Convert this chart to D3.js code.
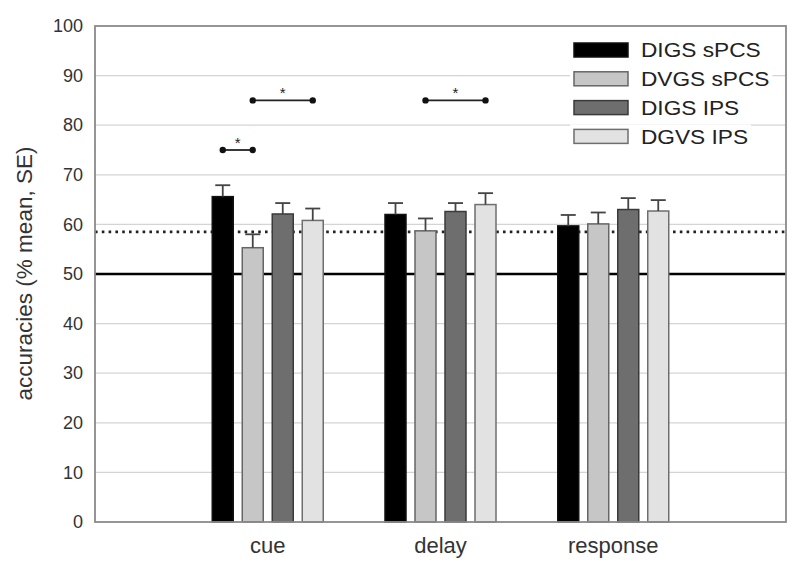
<!DOCTYPE html>
<html><head><meta charset="utf-8">
<script src="https://cdn.jsdelivr.net/npm/d3@7"></script>
<style>body{margin:0;background:#fff}svg{display:block;font-family:"Liberation Sans",Arial,sans-serif}</style>
</head><body>
<svg id="chart" width="800" height="575"></svg>
<script>
const categories = ["cue", "delay", "response"];
const seriesNames = ["DIGS sPCS", "DVGS sPCS", "DIGS IPS", "DGVS IPS"];
const meanDIGSsPCS = [65.6, 62.0, 59.7];
const meanDVGSsPCS = [55.3, 58.7, 60.1];
const meanDIGSIPS  = [62.1, 62.6, 63.0];
const meanDGVSIPS  = [60.8, 64.0, 62.7];
const seDIGSsPCS = [2.3, 2.3, 2.2];
const seDVGSsPCS = [2.7, 2.5, 2.3];
const seDIGSIPS  = [2.2, 1.7, 2.3];
const seDGVSIPS  = [2.4, 2.3, 2.2];
const yTicks = [0, 10, 20, 30, 40, 50, 60, 70, 80, 90, 100];
const chanceLevel = 50;
const permutationLevel = 58.5;
// significance brackets: category, from series, to series, level
const sigCategory = ["cue", "cue", "delay"];
const sigFrom = ["DIGS sPCS", "DVGS sPCS", "DVGS sPCS"];
const sigTo = ["DVGS sPCS", "DGVS IPS", "DGVS IPS"];
const sigLevel = [75, 85, 85];

const means = [meanDIGSsPCS, meanDVGSsPCS, meanDIGSIPS, meanDGVSIPS];
const ses = [seDIGSsPCS, seDVGSsPCS, seDIGSIPS, seDGVSIPS];
const fills = ["#000000", "#c6c6c6", "#6e6e6e", "#e2e2e2"];
const strokes = ["#111111", "#666666", "#3a3a3a", "#6e6e6e"];

const svg = d3.select("#chart");
const L = 95, R = 786, T = 26, B = 522;

const x = d3.scalePoint().domain(categories).range([L, R]).padding(1);
const xs = d3.scaleBand().domain(seriesNames).range([-60, 60]).paddingInner(0.3).paddingOuter(0.15);
const y = d3.scaleLinear().domain([0, 100]).range([B, T]);

// gridlines
svg.append("g").selectAll("line").data(yTicks.filter(d => d > 0 && d < 100)).join("line")
  .attr("x1", L).attr("x2", R).attr("y1", d => y(d)).attr("y2", d => y(d))
  .attr("stroke", "#d4d4d4").attr("stroke-width", 1.3);

// y axis tick labels
const yAxis = d3.axisLeft(y).tickValues(yTicks).tickSize(0).tickPadding(12);
const ga = svg.append("g").attr("transform", `translate(${L},0)`).call(yAxis);
ga.select(".domain").remove();
ga.selectAll("text").attr("font-size", 18).attr("fill", "#333").attr("font-family", '"Liberation Sans",Arial,sans-serif');

// reference lines
svg.append("line").attr("x1", L).attr("x2", R).attr("y1", y(permutationLevel)).attr("y2", y(permutationLevel))
  .attr("stroke", "#222").attr("stroke-width", 2.6).attr("stroke-dasharray", "2.6,4.2");
svg.append("line").attr("x1", L).attr("x2", R).attr("y1", y(chanceLevel)).attr("y2", y(chanceLevel))
  .attr("stroke", "#000").attr("stroke-width", 2.5);

// bars
const flat = [];
seriesNames.forEach((s, i) => categories.forEach((c, j) => flat.push({s, i, c, v: means[i][j], se: ses[i][j]})));
const gb = svg.append("g");
gb.selectAll("rect").data(flat).join("rect")
  .attr("x", d => x(d.c) + xs(d.s)).attr("width", xs.bandwidth())
  .attr("y", d => y(d.v)).attr("height", d => y(0) - y(d.v))
  .attr("fill", d => fills[d.i]).attr("stroke", d => strokes[d.i]).attr("stroke-width", 1.5);

// error bars (upper)
const ge = svg.append("g").attr("stroke", "#444").attr("stroke-width", 1.8);
flat.forEach(d => {
  const cx = x(d.c) + xs(d.s) + xs.bandwidth() / 2;
  ge.append("line").attr("x1", cx).attr("x2", cx).attr("y1", y(d.v)).attr("y2", y(d.v + d.se));
  ge.append("line").attr("x1", cx - 7.5).attr("x2", cx + 7.5).attr("y1", y(d.v + d.se)).attr("y2", y(d.v + d.se));
});

// plot border
svg.append("rect").attr("x", L).attr("y", T).attr("width", R - L).attr("height", B - T)
  .attr("fill", "none").attr("stroke", "#8a8a8a").attr("stroke-width", 1.8);

// significance brackets
const gs = svg.append("g");
sigCategory.forEach((c, k) => {
  const x1 = x(c) + xs(sigFrom[k]) + xs.bandwidth() / 2;
  const x2 = x(c) + xs(sigTo[k]) + xs.bandwidth() / 2;
  const yy = y(sigLevel[k]);
  gs.append("line").attr("x1", x1).attr("x2", x2).attr("y1", yy).attr("y2", yy).attr("stroke", "#222").attr("stroke-width", 1.8);
  gs.append("circle").attr("cx", x1).attr("cy", yy).attr("r", 3.2).attr("fill", "#111");
  gs.append("circle").attr("cx", x2).attr("cy", yy).attr("r", 3.2).attr("fill", "#111");
  gs.append("text").attr("x", (x1 + x2) / 2).attr("y", yy - 2).attr("text-anchor", "middle")
    .attr("font-size", 15).attr("fill", "#222").text("*");
});

// legend
const lg = svg.append("g");
seriesNames.forEach((s, i) => {
  const cy = 50 + i * 28.8;
  const g = lg.append("g");
  const bg = g.append("rect").attr("fill", "#fff");
  g.append("rect").attr("x", 574).attr("y", cy - 7).attr("width", 54).attr("height", 14)
    .attr("fill", fills[i]).attr("stroke", strokes[i]).attr("stroke-width", 1.5);
  const t = g.append("text").attr("x", 641).attr("y", cy + 7.5).attr("font-size", 21)
    .attr("fill", "#222").attr("transform", `translate(641,0) scale(1.08,1) translate(-641,0)`).text(s);
  const bb = t.node().getBBox();
  bg.attr("x", 570).attr("y", cy - 12).attr("width", 641 + bb.width * 1.08 - 570 + 3).attr("height", 24);
});

// x labels
svg.append("g").selectAll("text").data(categories).join("text")
  .attr("x", d => x(d)).attr("y", 553).attr("text-anchor", "middle")
  .attr("font-size", 22).attr("fill", "#333").text(d => d);

// y title
svg.append("text").attr("transform", `translate(32,273.5) rotate(-90)`)
  .attr("text-anchor", "middle").attr("font-size", 22.5).attr("fill", "#333")
  .text("accuracies (% mean, SE)");
</script>
</body></html>
